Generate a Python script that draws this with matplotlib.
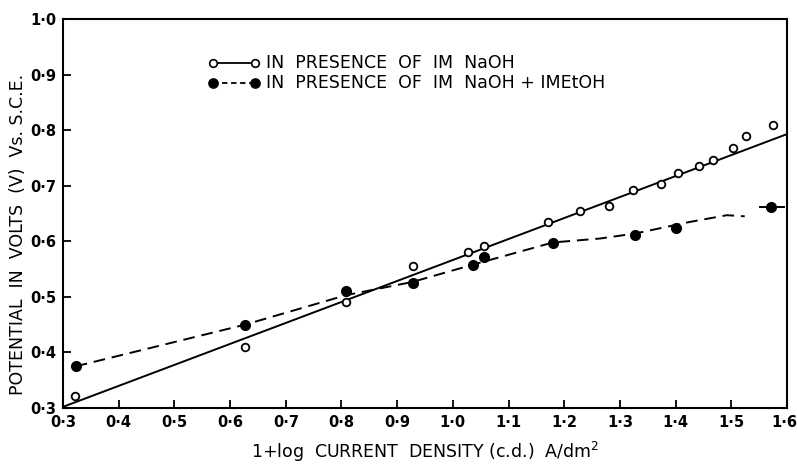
import numpy as np
import matplotlib.pyplot as plt
import matplotlib.transforms as mtransforms
from matplotlib.ticker import FuncFormatter

# open circles: in presence of 1M NaOH
naoh_x = [0.322, 0.627, 0.808, 0.928, 1.027, 1.056, 1.171, 1.228, 1.28, 1.323,
          1.374, 1.404, 1.442, 1.467, 1.503, 1.526, 1.575]
naoh_y = [0.322, 0.410, 0.490, 0.555, 0.580, 0.592, 0.634, 0.655, 0.663, 0.692,
          0.703, 0.723, 0.736, 0.746, 0.768, 0.790, 0.810]

# filled circles: in presence of 1M NaOH + 1M EtOH
etoh_x = [0.323, 0.627, 0.808, 0.928, 1.036, 1.056, 1.18, 1.327, 1.40, 1.572]
etoh_y = [0.375, 0.450, 0.510, 0.525, 0.557, 0.571, 0.597, 0.612, 0.624, 0.661]

# drawn lines
solid_x = [0.30, 1.60]
solid_y = [0.302, 0.793]
dash_x = [0.323, 0.627, 0.808, 0.928, 1.036, 1.18, 1.264, 1.327, 1.426, 1.492, 1.524]
dash_y = [0.375, 0.450, 0.503, 0.527, 0.558, 0.598, 0.605, 0.614, 0.635, 0.647, 0.645]
tail_x = [1.552, 1.594]
tail_y = [0.662, 0.662]

xticks = np.round(np.arange(0.3, 1.61, 0.1), 1)
yticks = np.round(np.arange(0.3, 1.01, 0.1), 1)

plt.rcParams['font.family'] = ['DejaVu Sans']

fig = plt.figure(figsize=(7.97, 4.66), dpi=100)
ax = fig.add_axes([0.079, 0.1245, 0.9085, 0.8345])

ax.plot(solid_x, solid_y, color='black', lw=1.4)
ax.plot(dash_x, dash_y, color='black', lw=1.4, ls=(0, (6, 3.5)))
ax.plot(tail_x, tail_y, color='black', lw=1.4)
ax.plot(naoh_x, naoh_y, 'o', ms=5.5, mfc='white', mec='black', mew=1.3)
ax.plot(etoh_x, etoh_y, 'o', ms=7, mfc='black', mec='black')

ax.set_xlim(0.3, 1.6)
ax.set_ylim(0.3, 1.0)
ax.set_xticks(xticks)
ax.set_yticks(yticks)
fmt = FuncFormatter(lambda v, p: f"{v:.1f}".replace('.', '·'))
ax.xaxis.set_major_formatter(fmt)
ax.yaxis.set_major_formatter(fmt)
ax.tick_params(direction='in', length=6, width=1.3, labelsize=10.5, pad=5)
for lab in ax.get_xticklabels() + ax.get_yticklabels():
    lab.set_fontweight('bold')
# nudge the last x label so it stays inside the figure
last = ax.get_xticklabels()[-1]
last.set_transform(last.get_transform() +
                   mtransforms.ScaledTranslation(-3 / 100, 0, fig.dpi_scale_trans))
for s in ax.spines.values():
    s.set_linewidth(1.5)

# legend drawn by hand like the original
lx0, lx1 = 0.207, 0.265
for yy, style, fill in [(0.887, '-', 'white'), (0.835, (0, (3, 2)), 'black')]:
    ax.plot([lx0, lx1], [yy, yy], color='black', lw=1.3, ls=style,
            transform=ax.transAxes)
    ax.plot([lx0, lx1], [yy, yy], 'o', ms=5.5 if fill == 'white' else 6.5,
            mfc=fill, mec='black', mew=1.2, transform=ax.transAxes)
ax.text(0.281, 0.887, "IN  PRESENCE  OF  IM  NaOH", transform=ax.transAxes,
        fontsize=12.5, va='center')
ax.text(0.281, 0.835, "IN  PRESENCE  OF  IM  NaOH + IMEtOH", transform=ax.transAxes,
        fontsize=12.5, va='center')

ax.set_xlabel("1+log  CURRENT  DENSITY (c.d.)  A/dm$^2$", fontsize=12.5)
ax.xaxis.set_label_coords(0.5, -0.1285)
ax.xaxis.label.set_va('baseline')
ax.set_ylabel("POTENTIAL  IN  VOLTS  (V)  Vs. S.C.E.", fontsize=12.5)
ax.yaxis.set_label_coords(-0.062, 0.445)
ax.yaxis.label.set_va('center')

fig.savefig("out.png", dpi=100)
